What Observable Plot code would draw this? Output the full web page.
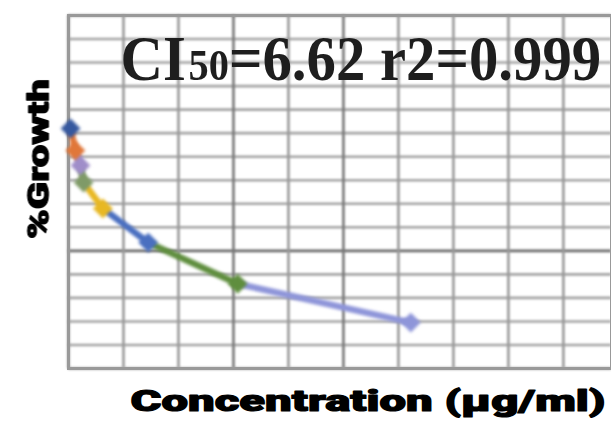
<!DOCTYPE html>
<html><head><meta charset="utf-8">
<script src="https://cdn.jsdelivr.net/npm/d3@7"></script>
<script src="https://cdn.jsdelivr.net/npm/@observablehq/plot@0.6"></script>
<style>html,body{margin:0;padding:0;background:#fff} svg{display:block}</style>
</head><body><div id="chart"></div>
<script>
// Data
const concentration = [0.15, 0.5, 0.87, 1.1, 2.5, 5.8, 12.3, 24.9];
const growth = [102, 92.6, 86.3, 79, 68, 53.5, 36, 19.5];
const pointColors = ["#35589f", "#e0773a", "#9f8dc9", "#7f9a68", "#e8b823", "#4a6fc0", "#5f8e3e", "#8e95d9"];
const xGridTicks = [0, 4, 8, 12, 16, 20, 24, 28, 32, 36];
const yGridTicks = [0, 10, 20, 30, 40, 50, 60, 70, 80, 90, 100, 110, 120, 130, 140, 150];
const darkX = [12, 20];
const darkY = [50];
const titleParts = ["CI", "50", "=6.62 r2=0.999"];
const xLabel = "Concentration (μg/ml)";
const yLabel = "%Growth";

const points = concentration.map((c, i) => ({c, g: growth[i], color: pointColors[i]}));
const segments = [];
for (let i = 1; i < points.length; i++) {
  segments.push({...points[i - 1], seg: i, color: pointColors[i]});
  segments.push({...points[i], seg: i, color: pointColors[i]});
}

const plot = Plot.plot({
  width: 611, height: 422,
  marginLeft: 68, marginRight: 0, marginTop: 15, marginBottom: 54,
  x: {domain: [0, 39.5], axis: null},
  y: {domain: [0, 150], axis: null},
  color: {type: "identity"},
  marks: [
    Plot.frame({fill: "#fff"}),
    Plot.ruleY(yGridTicks, {stroke: d => darkY.includes(d) ? "#6a6a6a" : "#a4a4a4", strokeWidth: 2.6}),
    Plot.ruleX(xGridTicks, {stroke: d => darkX.includes(d) ? "#777" : "#999", strokeWidth: 2.6}),
    Plot.frame({stroke: "#999", strokeWidth: 3}),
    Plot.line(segments, {x: "c", y: "g", z: "seg", stroke: "color", strokeWidth: 6.5, strokeLinecap: "round"}),
    Plot.dot(points, {x: "c", y: "g", fill: "color", stroke: "color", symbol: "diamond2", r: 8}),
    Plot.text([titleParts.join("")], {frameAnchor: "top-left", dx: 52, dy: 64, lineAnchor: "bottom", textAnchor: "start",
      fontFamily: "Liberation Serif", fontWeight: "bold", fontSize: 64, fill: "#1e1e1e"}),
    Plot.text([xLabel], {frameAnchor: "bottom", dx: 28, dy: 42, lineAnchor: "bottom", textAnchor: "middle",
      fontFamily: "Roboto", fontWeight: 900, fontSize: 29, fill: "#000", stroke: "#000", strokeWidth: 1.1}),
    Plot.text([yLabel], {frameAnchor: "left", rotate: -90, dx: -20, dy: -33, lineAnchor: "bottom", textAnchor: "middle",
      fontFamily: "Roboto", fontWeight: 900, fontSize: 29, fill: "#000", stroke: "#000", strokeWidth: 1.1})
  ]
});
document.getElementById("chart").appendChild(plot);

const svg = d3.select(plot);
svg.selectAll('g[aria-label="rule"], g[aria-label="frame"]').style("filter", "blur(0.9px)");
svg.selectAll('g[aria-label="line"], g[aria-label="dot"]').style("filter", "blur(1.6px)");

function squeeze(node, target, rotate) {
  const t = d3.select(node);
  const w = node.getComputedTextLength();
  const k = target / w;
  let tr = t.attr("transform");
  if (!tr) {
    tr = `translate(${+t.attr("x") || 0},${+t.attr("y") || 0})`;
    t.attr("x", null).attr("y", null);
  }
  t.attr("transform", tr.replace(/rotate\([^)]*\)/, "") + (rotate ? ` rotate(${rotate})` : "") + ` scale(${k},1)`);
}

svg.selectAll('g[aria-label="text"] text').each(function() {
  const t = d3.select(this);
  const s = t.text();
  if (s === titleParts.join("")) {
    t.text("");
    t.append("tspan").text(titleParts[0]);
    t.append("tspan").attr("font-size", 44).attr("dx", 3).text(titleParts[1]);
    t.append("tspan").text(titleParts[2]);
    t.style("filter", "blur(0.6px)");
    squeeze(this, 478, 0);
  } else if (s === xLabel) {
    squeeze(this, 475, 0);
  } else if (s === yLabel) {
    squeeze(this, 160, -90);
  }
});
</script>
</body></html>
